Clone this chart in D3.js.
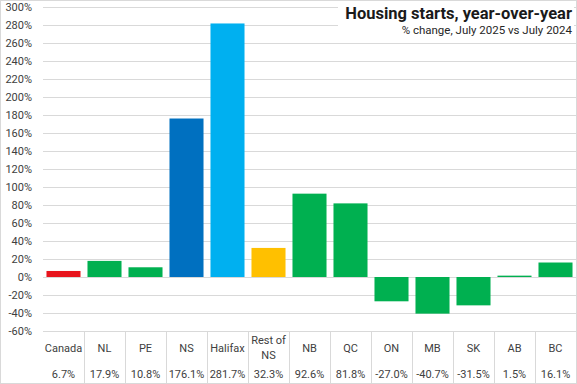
<!DOCTYPE html>
<html>
<head>
<meta charset="utf-8">
<script src="https://cdn.jsdelivr.net/npm/d3@7"></script>
<style>
  body { margin: 0; background: #fff; }
  svg { display: block; font-family: "Roboto", "Liberation Sans", sans-serif; }
</style>
</head>
<body>
<svg id="chart" width="577" height="384"></svg>
<script>
// Housing starts, % change July 2025 vs July 2024
var categories = ["Canada", "NL", "PE", "NS", "Halifax", "Rest of NS", "NB", "QC", "ON", "MB", "SK", "AB", "BC"];
var values = [6.7, 17.9, 10.8, 176.1, 281.7, 32.3, 92.6, 81.8, -27.0, -40.7, -31.5, 1.5, 16.1];
var barColors = ["#e8141c", "#00b050", "#00b050", "#0070c0", "#00b0f0", "#ffc000", "#00b050", "#00b050", "#00b050", "#00b050", "#00b050", "#00b050", "#00b050"];
var yTicks = [-60, -40, -20, 0, 20, 40, 60, 80, 100, 120, 140, 160, 180, 200, 220, 240, 260, 280, 300];

var width = 577, height = 384;
var plotLeft = 43, plotRight = 576, plotTop = 7, plotBottom = 331;

var svg = d3.select("#chart");

var x = d3.scaleBand()
    .domain(categories)
    .range([plotLeft, plotRight])
    .paddingInner(0.17)
    .paddingOuter(0.085);

var xCell = d3.scaleBand()
    .domain(categories)
    .range([plotLeft, plotRight]);

var y = d3.scaleLinear()
    .domain([-60, 300])
    .range([plotBottom, plotTop]);

// outer frame
svg.append("rect")
    .attr("x", 0.5).attr("y", 0.5)
    .attr("width", width - 1).attr("height", height - 1)
    .attr("fill", "none")
    .attr("stroke", "#d9d9d9");

// gridlines
svg.append("g")
    .selectAll("line")
    .data(yTicks)
    .enter()
    .append("line")
    .attr("x1", plotLeft).attr("x2", plotRight)
    .attr("y1", function(d) { return Math.round(y(d)) + 0.5; })
    .attr("y2", function(d) { return Math.round(y(d)) + 0.5; })
    .attr("stroke", "#d9d9d9")
    .attr("stroke-width", 1);

// y labels
svg.append("g")
    .selectAll("text")
    .data(yTicks)
    .enter()
    .append("text")
    .attr("x", 32)
    .attr("y", function(d) { return y(d); })
    .attr("dy", "0.35em")
    .attr("text-anchor", "end")
    .attr("font-size", 11)
    .attr("fill", "#404040")
    .text(function(d) { return d + "%"; });

// bars
svg.append("g")
    .selectAll("rect")
    .data(values)
    .enter()
    .append("rect")
    .attr("x", function(d, i) { return x(categories[i]); })
    .attr("width", x.bandwidth())
    .attr("y", function(d) { return y(Math.max(0, d)); })
    .attr("height", function(d) { return Math.abs(y(d) - y(0)); })
    .attr("fill", function(d, i) { return barColors[i]; });

// data table below the plot
var table = svg.append("g");

table.selectAll("line")
    .data(categories)
    .enter()
    .append("line")
    .attr("x1", function(d) { return Math.round(xCell(d) + xCell.bandwidth()) + 0.5; })
    .attr("x2", function(d) { return Math.round(xCell(d) + xCell.bandwidth()) + 0.5; })
    .attr("y1", plotBottom)
    .attr("y2", height)
    .attr("stroke", "#d9d9d9");

table.selectAll("text.cat")
    .data(categories)
    .enter()
    .append("text")
    .attr("class", "cat")
    .attr("x", function(d) { return xCell(d) + xCell.bandwidth() / 2; })
    .attr("text-anchor", "middle")
    .attr("font-size", 11)
    .attr("fill", "#404040")
    .each(function(d) {
        var t = d3.select(this);
        if (d === "Rest of NS") {
            t.append("tspan").attr("x", xCell(d) + xCell.bandwidth() / 2).attr("y", 344).text("Rest of");
            t.append("tspan").attr("x", xCell(d) + xCell.bandwidth() / 2).attr("y", 359).text("NS");
        } else {
            t.attr("y", 352).text(d);
        }
    });

table.selectAll("text.val")
    .data(values)
    .enter()
    .append("text")
    .attr("class", "val")
    .attr("x", function(d, i) { return xCell(categories[i]) + xCell.bandwidth() / 2; })
    .attr("y", 378)
    .attr("text-anchor", "middle")
    .attr("font-size", 11)
    .attr("fill", "#404040")
    .text(function(d) { return d.toFixed(1) + "%"; });

// title block
svg.append("rect")
    .attr("x", 338).attr("y", 2)
    .attr("width", 236).attr("height", 38)
    .attr("fill", "#fff");

svg.append("text")
    .attr("x", 572).attr("y", 19)
    .attr("text-anchor", "end")
    .attr("font-size", 16.5)
    .attr("font-weight", "bold")
    .attr("fill", "#1a1a1a")
    .text("Housing starts, year-over-year");

svg.append("text")
    .attr("x", 572).attr("y", 34)
    .attr("text-anchor", "end")
    .attr("font-size", 11.5)
    .attr("fill", "#262626")
    .text("% change, July 2025 vs July 2024");
</script>
</body>
</html>
